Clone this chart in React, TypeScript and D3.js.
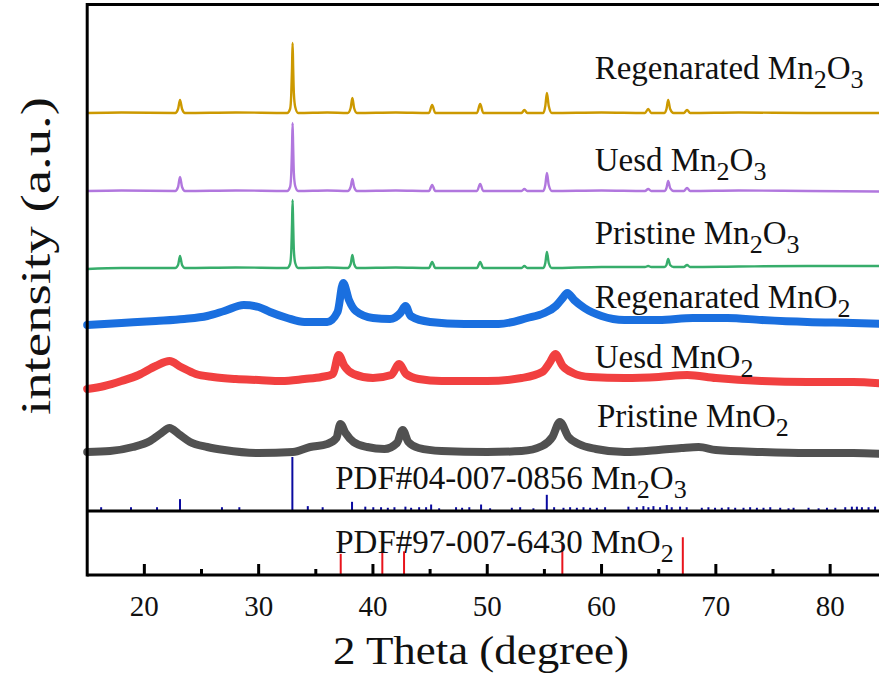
import React from "react"
import * as d3 from "d3"

// ── Data ───────────────────────────────────────────────────────────────────────

const X_DOMAIN: [number, number] = [15, 85]
const X_MAJOR = [20, 30, 40, 50, 60, 70, 80]
const X_MINOR = [25, 35, 45, 55, 65, 75, 85]

const SERIES_NAMES = [
  ["Pristine MnO", "2", ""],
  ["Uesd MnO", "2", ""],
  ["Regenarated MnO", "2", ""],
  ["Pristine Mn", "2", "O", "3"],
  ["Uesd Mn", "2", "O", "3"],
  ["Regenarated Mn", "2", "O", "3"],
]
const SERIES_COLORS = ["#515151", "#F14040", "#1A6FDF", "#37AD6B", "#B177DE", "#CC9900"]
// vertical stacking offsets (a.u.)
const SERIES_OFFSETS = [59, 128, 189, 243, 320, 398]

const pristineMnO2: [number, number][] = [
  [15, 0], [17, 1], [19, 5], [20.5, 11], [21.5, 19], [22.2, 24], [23, 18], [24, 10],
  [25.5, 5], [27, 2], [30, -1], [33, 0], [34.5, 5], [36, 8], [36.8, 14], [37.15, 28],
  [37.6, 19], [38.3, 10], [39.5, 5], [41, 3], [42.1, 9], [42.6, 22], [43.1, 10], [44, 4],
  [46, 1], [50, 0], [53, 1], [54.8, 6], [55.7, 15], [56.35, 30], [57.1, 15], [58, 8],
  [59.5, 3], [62, 0], [65, 2], [67, 4], [68.5, 5], [70, 2], [74, 0], [78, -1], [82, -1], [85, -2],
]
const uesdMnO2: [number, number][] = [
  [15, -6], [16.5, -3], [18, 2], [19.5, 8], [21, 17], [22.2, 22], [23.2, 16], [24.5, 9],
  [26, 6], [28, 4], [30, 3], [32, 2], [34, 4], [35.5, 6], [36.5, 9], [37.0, 28],
  [37.5, 17], [38.3, 9], [40, 5], [41.6, 8], [42.3, 19], [42.9, 9], [44, 4], [46, 2],
  [50, 2], [53, 5], [54.8, 11], [55.5, 21], [55.95, 29], [56.6, 17], [57.5, 10], [59, 6],
  [62, 5], [65, 6], [67.5, 8], [70, 5], [74, 2], [78, 1], [82, 1], [85, -1],
]
const regenMnO2: [number, number][] = [
  [15, -3], [18, -1], [21, 1], [23.5, 3], [25.5, 6], [27, 11], [28.7, 17], [30, 15],
  [31, 10], [32.5, 4], [34, 0], [36, 0], [36.9, 10], [37.4, 39], [37.9, 22], [38.5, 11],
  [40, 4], [41.5, 3], [42.4, 9], [42.85, 16], [43.3, 6], [45, 0], [48, -2], [51, -2],
  [53.5, 4], [55, 9], [56, 16], [56.6, 24], [57.0, 29], [57.6, 22], [58.5, 14], [60, 6],
  [62, 2], [65, 2], [68, 4], [71, 4], [74, 2], [78, 0], [82, -1], [85, -2],
]
const pristineMn2O3: [number, number][] = [
  [15, -1], [18, 0], [22.7, 0], [22.95, 3], [23.12, 12], [23.3, 3], [23.55, 0],
  [28, 0.5], [32.5, 0], [32.75, 4], [32.85, 16], [32.92, 44], [32.97, 68], [33.02, 44],
  [33.08, 18], [33.2, 5], [33.45, 0], [36, 0.5], [37.8, 0], [38.05, 4], [38.2, 13],
  [38.35, 4], [38.6, 0], [42, 0.5], [44.9, 0], [45.18, 6], [45.45, 0], [49.1, 0],
  [49.38, 6], [49.65, 0], [53, 0], [53.25, 2], [53.5, 0], [54.9, 0], [55.08, 5],
  [55.22, 16], [55.38, 5], [55.65, 0], [60, 1], [63.8, 1], [64.08, 2], [64.35, 1],
  [65.5, 1], [65.68, 3], [65.83, 9], [66, 3], [66.3, 1], [67.2, 1], [67.48, 3],
  [67.75, 1], [72, 1.5], [78, 2], [85, 2],
]
const uesdMn2O3: [number, number][] = [
  [15, 0], [18, 0.5], [22.7, 0], [22.95, 4], [23.12, 14], [23.3, 4], [23.55, 0],
  [28, 0.5], [32.5, 0], [32.75, 4], [32.85, 17], [32.92, 44], [32.97, 68], [33.02, 44],
  [33.08, 18], [33.2, 5], [33.45, 0], [36, 0.5], [37.8, 0], [38.05, 4], [38.2, 12],
  [38.35, 4], [38.6, 0], [42, 0.5], [44.9, 0], [45.18, 6], [45.45, 0], [49.1, 0],
  [49.38, 7], [49.65, 0], [53, 0], [53.25, 2], [53.5, 0], [54.9, 0], [55.08, 6],
  [55.22, 18], [55.38, 6], [55.65, 0], [60, 0.5], [63.8, 0], [64.08, 2], [64.35, 0],
  [65.5, 0], [65.68, 3], [65.83, 10], [66, 3], [66.3, 0], [67.2, 0], [67.48, 3],
  [67.75, 0], [72, 0.5], [78, 0], [85, -0.5],
]
const regenMn2O3: [number, number][] = [
  [15, 0], [18, 0.5], [22.7, 0], [22.95, 4], [23.12, 13], [23.3, 4], [23.55, 0],
  [28, 0.5], [32.5, 0], [32.75, 4], [32.85, 18], [32.92, 45], [32.97, 70], [33.02, 45],
  [33.08, 20], [33.2, 6], [33.45, 0], [36, 0.5], [37.8, 0], [38.05, 5], [38.2, 15],
  [38.35, 5], [38.6, 0], [42, 0.5], [44.9, 0], [45.18, 8], [45.45, 0], [49.1, 0],
  [49.38, 9], [49.65, 0], [53, 0], [53.25, 3], [53.5, 0], [54.9, 0], [55.08, 7],
  [55.22, 20], [55.38, 7], [55.65, 0], [60, 0.5], [63.8, 0], [64.08, 4], [64.35, 0],
  [65.5, 0], [65.68, 4], [65.83, 13], [66, 4], [66.3, 0], [67.2, 0], [67.48, 3],
  [67.75, 0], [72, 0.5], [78, 0], [85, 0],
]
const SERIES_DATA = [pristineMnO2, uesdMnO2, regenMnO2, pristineMn2O3, uesdMn2O3, regenMn2O3]

// PDF#04-007-0856 Mn2O3 reference lines: [2θ, relative intensity]
const REF_MN2O3: [number, number][] = [
  [16.22, 7], [18.83, 7], [21.11, 7], [23.12, 22], [26.79, 7], [28.31, 7], [32.95, 100],
  [34.3, 9], [35.6, 7], [38.17, 17], [39.33, 8], [40.03, 7], [40.71, 7], [41.3, 6],
  [41.88, 7], [42.84, 8], [43.34, 6], [44.04, 7], [44.65, 7], [45.09, 12], [45.79, 5],
  [47.27, 7], [47.8, 6], [48.43, 7], [49.46, 12], [50.25, 5], [52.15, 6], [52.88, 7],
  [54.04, 5], [55.21, 30], [55.85, 7], [56.67, 6], [57.25, 7], [57.84, 6], [58.42, 7],
  [59.0, 6], [59.59, 6], [60.31, 7], [62.35, 8], [63.08, 7], [63.66, 9], [64.1, 7],
  [64.54, 9], [65.12, 7], [65.71, 11], [66.14, 7], [66.87, 8], [67.45, 7], [68.77, 6],
  [69.35, 7], [69.93, 6], [70.52, 6], [71.1, 7], [71.69, 6], [72.42, 6], [73.0, 7],
  [73.59, 6], [74.17, 6], [74.76, 7], [75.63, 6], [76.36, 5], [76.8, 6], [78.11, 6],
  [78.99, 5], [79.72, 6], [80.45, 6], [81.32, 7], [81.9, 8], [82.34, 8], [82.78, 7],
  [83.36, 7], [83.93, 8], [84.5, 7],
]
// PDF#97-007-6430 MnO2 reference lines
const REF_MNO2: [number, number][] = [
  [37.18, 33], [40.82, 37], [42.72, 37], [56.57, 48], [67.11, 59],
]

// ── Chart ──────────────────────────────────────────────────────────────────────

const W = 879
const H = 677
const FONT = "'Liberation Serif', 'Times New Roman', Times, serif"

export default function App() {
  const left = 87.2
  const top = 4.5
  const sep = 511
  const bottom = 575

  const x = d3.scaleLinear().domain(X_DOMAIN).range([left, 887.3])
  const y = d3.scaleLinear().domain([0, 507]).range([sep, 4])
  const yRef1 = d3.scaleLinear().domain([0, 100]).range([sep, 457])
  const yRef2 = d3.scaleLinear().domain([0, 100]).range([bottom, sep])

  const lines = SERIES_DATA.map((data, i) =>
    d3
      .line<[number, number]>()
      .x(d => x(d[0]))
      .y(d => y(d[1] + SERIES_OFFSETS[i]))
      .curve(d3.curveMonotoneX)(data),
  )

  // label anchors: [2θ, lift above series offset]
  const labelLift = [25, 15, 14, 24, 20, 34]
  const labelX = [59.6, 59.4, 59.4, 59.4, 59.4, 59.4]

  return (
    <svg
      width={W}
      height={H}
      style={{ position: "absolute", left: 0, top: 0, background: "#fff" }}
    >
      <rect width={W} height={H} fill="#fff" />

      {/* Traces */}
      {lines.map((d, i) => (
        <path
          key={i}
          d={d || ""}
          fill="none"
          stroke={SERIES_COLORS[i]}
          strokeWidth={i < 3 ? 8 : 2.4}
          strokeLinejoin="round"
          strokeLinecap="round"
        />
      ))}

      {/* Reference patterns */}
      {REF_MN2O3.map(([t, v]) => (
        <line key={`a${t}`} x1={x(t)} x2={x(t)} y1={yRef1(0)} y2={yRef1(v)} stroke="#0A0AA0" strokeWidth={2} />
      ))}
      {REF_MNO2.map(([t, v]) => (
        <line key={`b${t}`} x1={x(t)} x2={x(t)} y1={yRef2(0)} y2={yRef2(v)} stroke="#E8141C" strokeWidth={2} />
      ))}

      {/* Frame */}
      <line x1={left} x2={W} y1={top} y2={top} stroke="#000" strokeWidth={3} />
      <line x1={left} x2={W} y1={sep} y2={sep} stroke="#000" strokeWidth={3} />
      <line x1={left} x2={W} y1={bottom} y2={bottom} stroke="#000" strokeWidth={3} />
      <line x1={left} x2={left} y1={top - 1.5} y2={bottom + 1.5} stroke="#000" strokeWidth={3} />

      {/* Ticks */}
      {X_MAJOR.map(t => (
        <line key={`M${t}`} x1={x(t)} x2={x(t)} y1={bottom} y2={bottom - 11} stroke="#000" strokeWidth={3} />
      ))}
      {X_MINOR.map(t => (
        <line key={`m${t}`} x1={x(t)} x2={x(t)} y1={bottom} y2={bottom - 6} stroke="#000" strokeWidth={3} />
      ))}
      {X_MAJOR.map(t => (
        <text key={`l${t}`} x={x(t)} y={616} textAnchor="middle" fontSize={29} fontFamily={FONT} fill="#111">
          {t}
        </text>
      ))}

      {/* Series labels */}
      {SERIES_NAMES.map((parts, i) => (
        <text
          key={`s${i}`}
          x={x(labelX[i])}
          y={y(SERIES_OFFSETS[i] + labelLift[i])}
          fontSize={33}
          fontFamily={FONT}
          fill="#111"
        >
          <tspan>{parts[0]}</tspan>
          <tspan fontSize={26} dy={9}>{parts[1]}</tspan>
          {parts[2] && <tspan dy={-9}>{parts[2]}</tspan>}
          {parts[3] && <tspan fontSize={26} dy={9}>{parts[3]}</tspan>}
        </text>
      ))}

      <text x={x(36.7)} y={489} fontSize={33} fontFamily={FONT} fill="#111">
        <tspan>PDF#04-007-0856 Mn</tspan>
        <tspan fontSize={26} dy={9}>2</tspan>
        <tspan dy={-9}>O</tspan>
        <tspan fontSize={26} dy={9}>3</tspan>
      </text>
      <text x={x(36.7)} y={553} fontSize={33} fontFamily={FONT} fill="#111">
        <tspan>PDF#97-007-6430 MnO</tspan>
        <tspan fontSize={26} dy={9}>2</tspan>
      </text>

      {/* Axis titles */}
      <text
        x={481}
        y={664}
        textAnchor="middle"
        fontSize={40}
        fontFamily={FONT}
        textLength={296}
        lengthAdjust="spacingAndGlyphs"
        fill="#111"
      >
        2 Theta (degree)
      </text>
      <text
        transform="translate(50,256) rotate(-90)"
        textAnchor="middle"
        fontSize={42}
        fontFamily={FONT}
        textLength={318}
        lengthAdjust="spacingAndGlyphs"
        fill="#111"
      >
        intensity (a.u.)
      </text>
    </svg>
  )
}
